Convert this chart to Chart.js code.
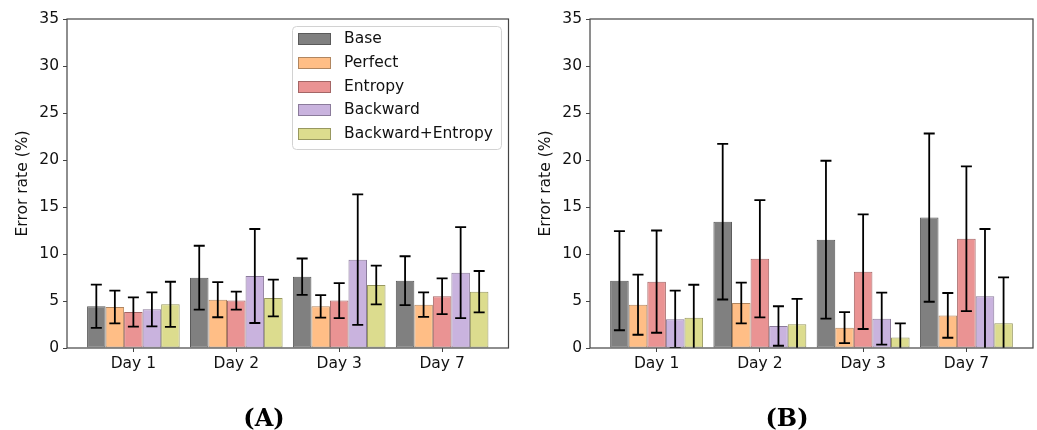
<!DOCTYPE html>
<html>
<head>
<meta charset="utf-8">
<script src="https://cdn.jsdelivr.net/npm/chart.js@4.4.1/dist/chart.umd.min.js"></script>
<style>
  html, body { margin: 0; padding: 0; background: #fff; width: 1037px; height: 430px; overflow: hidden; }
  canvas { position: absolute; top: 0; }
  .panel-label { position: absolute; width: 528px; text-align: center; font-family: "DejaVu Serif", serif; font-weight: bold; font-size: 24px; line-height: 30px; color: #000; }
</style>
</head>
<body>
<canvas id="chartA" width="518" height="430" style="left:0px"></canvas>
<canvas id="chartB" width="514" height="430" style="left:523px"></canvas>
<div class="panel-label" style="left:0px; top:403px;">(A)</div>
<div class="panel-label" style="left:523px; top:403px;">(B)</div>
<script>
// ---- categories & series names ----
const days = ['Day 1', 'Day 2', 'Day 3', 'Day 7'];
const methods = ['Base', 'Perfect', 'Entropy', 'Backward', 'Backward+Entropy'];
const yTicks = [0, 5, 10, 15, 20, 25, 30, 35];

// ---- panel (A): mean error rate (%) ----
const baseA     = [4.45, 7.48, 7.59, 7.16];
const perfectA  = [4.36, 5.14, 4.43, 4.61];
const entropyA  = [3.83, 5.04, 5.04, 5.50];
const backwardA = [4.11, 7.66, 9.40, 8.01];
const bwEntA    = [4.65, 5.32, 6.70, 5.99];
// ---- panel (A): error bar half-lengths ----
const baseErrA     = [2.30, 3.40, 1.93, 2.60];
const perfectErrA  = [1.75, 1.87, 1.20, 1.30];
const entropyErrA  = [1.56, 0.96, 1.86, 1.90];
const backwardErrA = [1.80, 5.00, 6.95, 4.84];
const bwEntErrA    = [2.40, 1.95, 2.06, 2.20];

// ---- panel (B): mean error rate (%) ----
const baseB     = [7.16, 13.44, 11.52, 13.87];
const perfectB  = [4.61, 4.79, 2.16, 3.47];
const entropyB  = [7.06, 9.50, 8.12, 11.63];
const backwardB = [3.05, 2.34, 3.12, 5.50];
const bwEntB    = [3.23, 2.52, 1.13, 2.62];
// ---- panel (B): error bar half-lengths ----
const baseErrB     = [5.27, 8.28, 8.40, 8.95];
const perfectErrB  = [3.20, 2.17, 1.65, 2.38];
const entropyErrB  = [5.44, 6.24, 6.10, 7.70];
const backwardErrB = [3.05, 2.10, 2.77, 7.16];
const bwEntErrB    = [3.50, 2.70, 1.50, 4.90];

// ---- styles ----
const fills = ['#808080', '#ffbe86', '#ea9393', '#c9b3de', '#dcdc8e'];
const edges = ['#5a5a5a', '#b08660', '#a46666', '#8b7b9b', '#989860'];
const FONT = '"DejaVu Sans", sans-serif';
const FS = 15.5;
const TXT = '#111';
const AXC = '#444';

function makeDatasets(means, errs) {
  return methods.map((m, k) => ({
    label: m,
    data: means[k].map((v, i) => ({ x: i, y: v })),
    errors: errs[k],
    backgroundColor: fills[k],
    borderColor: edges[k],
    borderWidth: 1,
    borderSkipped: false,
    categoryPercentage: 0.9,
    barPercentage: 1.0
  }));
}

const errorBarPlugin = {
  id: 'errorBars',
  afterDatasetsDraw(chart) {
    const { ctx, chartArea: ca, scales } = chart;
    const y = scales.y;
    const cap = 5.5;
    ctx.save();
    ctx.beginPath();
    ctx.rect(ca.left, ca.top, ca.right - ca.left, ca.bottom - ca.top);
    ctx.clip();
    ctx.strokeStyle = '#000';
    ctx.lineWidth = 1.8;
    chart.data.datasets.forEach((ds, di) => {
      const meta = chart.getDatasetMeta(di);
      meta.data.forEach((bar, i) => {
        const v = ds.data[i].y, e = ds.errors[i];
        const x = bar.x;
        const yt = y.getPixelForValue(v + e);
        const yb = y.getPixelForValue(v - e);
        ctx.beginPath();
        ctx.moveTo(x, yt); ctx.lineTo(x, yb);
        ctx.moveTo(x - cap, yt); ctx.lineTo(x + cap, yt);
        ctx.moveTo(x - cap, yb); ctx.lineTo(x + cap, yb);
        ctx.stroke();
      });
    });
    ctx.restore();
  }
};

const framePlugin = {
  id: 'frame',
  afterDraw(chart) {
    const { ctx, chartArea: ca } = chart;
    ctx.save();
    ctx.strokeStyle = AXC;
    ctx.lineWidth = 1.2;
    ctx.strokeRect(ca.left, ca.top, ca.right - ca.left, ca.bottom - ca.top);
    ctx.restore();
  }
};

const boxLegendPlugin = {
  id: 'boxLegend',
  afterDraw(chart, args, opts) {
    if (!opts || !opts.show) return;
    const { ctx, chartArea: ca } = chart;
    const dsets = chart.data.datasets;
    ctx.save();
    ctx.font = FS + 'px ' + FONT;
    const textW = Math.max(...dsets.map(d => ctx.measureText(d.label).width));
    const boxW = 60 + textW, boxH = 123;
    const bx = Math.round(ca.right - 8 - boxW), by = Math.round(ca.top + 7);
    ctx.beginPath();
    ctx.roundRect(bx + 0.5, by + 0.5, boxW, boxH, 4);
    ctx.fillStyle = 'rgba(255,255,255,0.85)';
    ctx.fill();
    ctx.strokeStyle = '#d2d2d2';
    ctx.lineWidth = 1;
    ctx.stroke();
    dsets.forEach((d, i) => {
      const cy = by + 13.3 + i * 23.7;
      ctx.fillStyle = d.backgroundColor;
      ctx.fillRect(bx + 6, Math.round(cy - 6), 33, 12);
      ctx.strokeStyle = d.borderColor;
      ctx.strokeRect(bx + 6.5, Math.round(cy - 6) + 0.5, 32, 11);
      ctx.fillStyle = TXT;
      ctx.textBaseline = 'middle';
      ctx.textAlign = 'left';
      ctx.fillText(d.label, bx + 52, cy);
    });
    ctx.restore();
  }
};

function makeChart(id, means, errs, padRight, showLegend) {
  const canvas = document.getElementById(id);
  return new Chart(canvas, {
    type: 'bar',
    data: { datasets: makeDatasets(means, errs) },
    plugins: [errorBarPlugin, framePlugin, boxLegendPlugin],
    options: {
      responsive: false,
      animation: false,
      devicePixelRatio: 1,
      layout: { padding: { top: 19, right: padRight, bottom: 0, left: 0 } },
      plugins: {
        legend: { display: false },
        tooltip: { enabled: false },
        boxLegend: { show: showLegend }
      },
      scales: {
        x: {
          type: 'linear',
          min: -0.645,
          max: 3.645,
          offset: false,
          afterBuildTicks: s => { s.ticks = days.map((d, i) => ({ value: i })); },
          afterFit: s => { s.height = 430 - 348; },
          ticks: {
            callback: v => days[v] !== undefined ? days[v] : '',
            font: { family: FONT, size: FS },
            color: TXT,
            padding: 3,
            autoSkip: false,
            maxRotation: 0,
            minRotation: 0
          },
          grid: { display: true, drawOnChartArea: false, drawTicks: true, tickLength: 4, color: AXC, tickColor: AXC, offset: false },
          border: { display: false }
        },
        y: {
          min: 0,
          max: 35,
          afterBuildTicks: s => { s.ticks = yTicks.map(v => ({ value: v })); },
          afterFit: s => { s.width = 67; },
          ticks: {
            font: { family: FONT, size: FS },
            color: TXT,
            padding: 4
          },
          grid: { display: true, drawOnChartArea: false, drawTicks: true, tickLength: 4, color: AXC, tickColor: AXC },
          border: { display: false },
          title: {
            display: true,
            text: 'Error rate (%)',
            font: { family: FONT, size: FS },
            color: TXT,
            padding: { top: 14, bottom: 0 }
          }
        }
      }
    }
  });
}

makeChart('chartA',
  [baseA, perfectA, entropyA, backwardA, bwEntA],
  [baseErrA, perfectErrA, entropyErrA, backwardErrA, bwEntErrA],
  9.5, true);
makeChart('chartB',
  [baseB, perfectB, entropyB, backwardB, bwEntB],
  [baseErrB, perfectErrB, entropyErrB, backwardErrB, bwEntErrB],
  4, false);
</script>
</body>
</html>
